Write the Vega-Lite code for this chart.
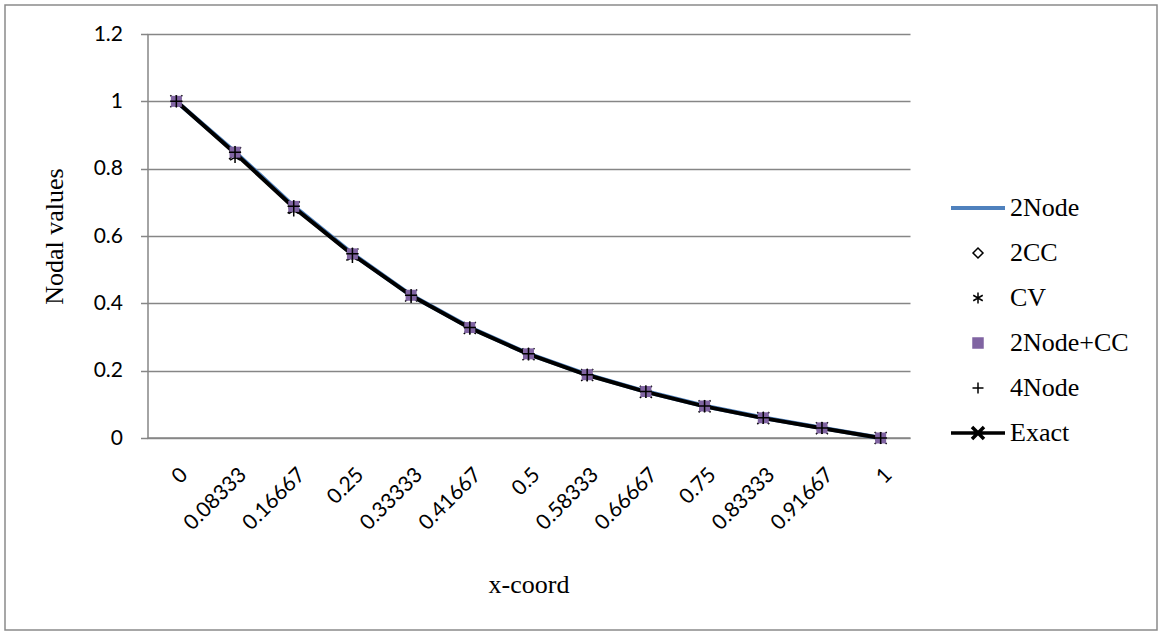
{
  "$schema": "https://vega.github.io/schema/vega-lite/v6.json",
  "autosize": "none",
  "width": 1152,
  "height": 625,
  "padding": {"left": 5, "top": 5, "right": 2, "bottom": 2},
  "background": "white",
  "config": {
    "view": {"stroke": "#8a8a8a", "strokeWidth": 1.5},
    "axis": {"labelFont": "Lato", "labelFontSize": 21, "labelColor": "black", "titleFont": "Liberation Serif", "titleFontSize": 26, "titleFontWeight": "normal", "titleColor": "black", "domainColor": "#868686", "domainWidth": 1.5, "tickColor": "#868686", "tickWidth": 1.5, "gridColor": "#868686", "gridWidth": 1.5}
  },
  "data": {
    "values": [
      {"x": "0", "2Node": 1, "2CC": 1, "CV": 1, "2Node+CC": 1, "4Node": 1, "Exact": 1},
      {"x": "0.08333", "2Node": 0.849, "2CC": 0.849, "CV": 0.834, "2Node+CC": 0.849, "4Node": 0.849, "Exact": 0.846},
      {"x": "0.16667", "2Node": 0.688, "2CC": 0.688, "CV": 0.675, "2Node+CC": 0.688, "4Node": 0.688, "Exact": 0.685},
      {"x": "0.25", "2Node": 0.547, "2CC": 0.547, "CV": 0.537, "2Node+CC": 0.547, "4Node": 0.547, "Exact": 0.545},
      {"x": "0.33333", "2Node": 0.424, "2CC": 0.424, "CV": 0.418, "2Node+CC": 0.424, "4Node": 0.424, "Exact": 0.423},
      {"x": "0.41667", "2Node": 0.328, "2CC": 0.328, "CV": 0.324, "2Node+CC": 0.328, "4Node": 0.328, "Exact": 0.327},
      {"x": "0.5", "2Node": 0.25, "2CC": 0.25, "CV": 0.247, "2Node+CC": 0.25, "4Node": 0.25, "Exact": 0.249},
      {"x": "0.58333", "2Node": 0.188, "2CC": 0.188, "CV": 0.185, "2Node+CC": 0.188, "4Node": 0.188, "Exact": 0.187},
      {"x": "0.66667", "2Node": 0.138, "2CC": 0.138, "CV": 0.136, "2Node+CC": 0.138, "4Node": 0.138, "Exact": 0.137},
      {"x": "0.75", "2Node": 0.095, "2CC": 0.095, "CV": 0.093, "2Node+CC": 0.095, "4Node": 0.095, "Exact": 0.094},
      {"x": "0.83333", "2Node": 0.06, "2CC": 0.06, "CV": 0.059, "2Node+CC": 0.06, "4Node": 0.06, "Exact": 0.059},
      {"x": "0.91667", "2Node": 0.03, "2CC": 0.03, "CV": 0.029, "2Node+CC": 0.03, "4Node": 0.03, "Exact": 0.029},
      {"x": "1", "2Node": 0, "2CC": 0, "CV": 0, "2Node+CC": 0, "4Node": 0, "Exact": 0}
    ]
  },
  "transform": [
    {"fold": ["2Node", "2CC", "CV", "2Node+CC", "4Node", "Exact"], "as": ["s", "v"]}
  ],
  "encoding": {
    "x": {"field": "x", "type": "ordinal", "sort": null, "scale": {"range": [142, 905]},
      "axis": {"title": "x-coord", "offset": -192.5, "labelAngle": -45, "ticks": false, "grid": false, "labelPadding": 26, "titlePadding": 38}},
    "y": {"field": "v", "type": "quantitative", "scale": {"domain": [0, 1.2], "nice": false, "range": [433, 29]},
      "axis": {"title": "Nodal values", "offset": -142.5, "values": [0, 0.2, 0.4, 0.6, 0.8, 1, 1.2], "format": "~g", "tickSize": 7, "labelPadding": 18, "titlePadding": 26, "grid": true}}
  },
  "layer": [
    {"transform": [{"filter": "datum.s === '2Node'"}], "mark": {"type": "line", "color": "#4F81BD", "strokeWidth": 4.5}},
    {"transform": [{"filter": "datum.s === 'Exact'"}], "mark": {"type": "line", "color": "black", "strokeWidth": 4}},
    {"transform": [{"filter": "datum.s === 'Exact'"}],
      "mark": {"type": "point", "shape": "M-1,-1L1,1M-1,1L1,-1", "filled": false, "color": "black", "strokeWidth": 1.5, "size": 144, "opacity": 1}},
    {"transform": [{"filter": "datum.s === '2CC' || datum.s === 'CV'"}],
      "mark": {"type": "point", "size": 110, "opacity": 1},
      "encoding": {
        "shape": {"field": "s", "type": "nominal",
          "scale": {"domain": ["2Node", "2CC", "CV", "2Node+CC", "4Node", "Exact"],
            "range": ["M-5.4,0H5.4", "diamond", "M0,-1.1V1.1M-0.95,-0.55L0.95,0.55M-0.95,0.55L0.95,-0.55", "square", "M-1.1,0H1.1M0,-1.1V1.1", "M-5.4,0H5.4M-1.2,-1.2L1.2,1.2M-1.2,1.2L1.2,-1.2"]},
          "legend": {"title": null, "orient": "none", "legendX": 960, "legendY": 190, "padding": 0,
            "symbolSize": 100, "labelFont": "Liberation Serif", "labelFontSize": 26, "labelColor": "black", "labelOffset": 19, "rowPadding": 19}},
        "stroke": {"field": "s", "type": "nominal",
          "scale": {"domain": ["2Node", "2CC", "CV", "2Node+CC", "4Node", "Exact"],
            "range": ["#4F81BD", "black", "black", "#8064A2", "black", "black"]}},
        "fill": {"field": "s", "type": "nominal",
          "scale": {"domain": ["2Node", "2CC", "CV", "2Node+CC", "4Node", "Exact"],
            "range": ["transparent", "transparent", "transparent", "#8064A2", "transparent", "transparent"]}},
        "strokeWidth": {"field": "s", "type": "nominal",
          "scale": {"type": "ordinal", "domain": ["2Node", "2CC", "CV", "2Node+CC", "4Node", "Exact"],
            "range": [4, 1.5, 1.5, 1.5, 1.5, 3.5]}}
      }
    },
    {"transform": [{"filter": "datum.s === '2Node+CC'"}],
      "mark": {"type": "point", "shape": "square", "filled": true, "color": "#8064A2", "size": 121, "opacity": 1}},
    {"transform": [{"filter": "datum.s === '4Node'"}],
      "mark": {"type": "point", "shape": "M-1,0H1M0,-1V1", "filled": false, "color": "black", "strokeWidth": 1.5, "size": 144, "opacity": 1}}
  ]
}
